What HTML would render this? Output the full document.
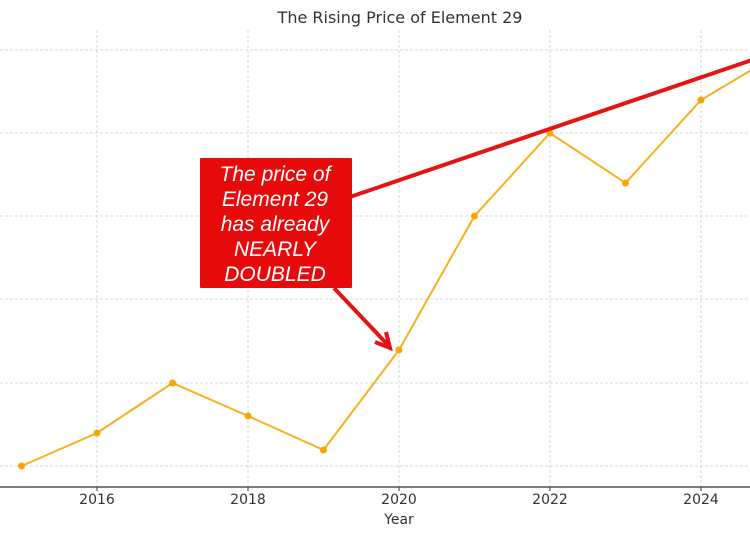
<!DOCTYPE html>
<html><head><meta charset="utf-8"><style>body{margin:0;background:#fff}svg{display:block}</style></head>
<body>
<svg width="750" height="536" xmlns="http://www.w3.org/2000/svg" font-family="DejaVu Sans, Liberation Sans, sans-serif">
<rect width="750" height="536" fill="#fff"/>
<text x="400" y="23" font-size="16" text-anchor="middle" fill="#333">The Rising Price of Element 29</text>
<g stroke="#ccc" stroke-width="0.8" stroke-dasharray="3,2">
<line x1="97" y1="30" x2="97" y2="487"/><line x1="248" y1="30" x2="248" y2="487"/><line x1="399" y1="30" x2="399" y2="487"/><line x1="550" y1="30" x2="550" y2="487"/><line x1="701" y1="30" x2="701" y2="487"/>
<line x1="0" y1="50" x2="750" y2="50"/><line x1="0" y1="133" x2="750" y2="133"/><line x1="0" y1="216" x2="750" y2="216"/><line x1="0" y1="299" x2="750" y2="299"/><line x1="0" y1="383" x2="750" y2="383"/><line x1="0" y1="466" x2="750" y2="466"/>
</g>
<line x1="0" y1="487" x2="750" y2="487" stroke="#333" stroke-width="1.2"/>
<g stroke="#333"><line x1="97" y1="487" x2="97" y2="491"/><line x1="248" y1="487" x2="248" y2="491"/><line x1="399" y1="487" x2="399" y2="491"/><line x1="550" y1="487" x2="550" y2="491"/><line x1="701" y1="487" x2="701" y2="491"/></g>
<g font-size="14" fill="#333" text-anchor="middle"><text x="97" y="504">2016</text><text x="248" y="504">2018</text><text x="399" y="504">2020</text><text x="550" y="504">2022</text><text x="701" y="504">2024</text><text x="399" y="524">Year</text></g>
<polyline fill="none" stroke="#f4b120" stroke-width="2" points="21.5,466 97,433 172.5,383 248,416 323.5,450 399,350 474.5,216 550,133 625.5,183 701,100 776.5,55"/>
<g fill="#f4a800"><circle cx="21.5" cy="466" r="3.5"/><circle cx="97" cy="433" r="3.5"/><circle cx="172.5" cy="383" r="3.5"/><circle cx="248" cy="416" r="3.5"/><circle cx="323.5" cy="450" r="3.5"/><circle cx="399" cy="350" r="3.5"/><circle cx="474.5" cy="216" r="3.5"/><circle cx="550" cy="133" r="3.5"/><circle cx="625.5" cy="183" r="3.5"/><circle cx="701" cy="100" r="3.5"/></g>
<line x1="300" y1="214" x2="752" y2="60" stroke="#e31414" stroke-width="4"/>
<line x1="334" y1="288" x2="388" y2="345" stroke="#e31414" stroke-width="4"/>
<polyline points="375,342 390,348 386,332" fill="none" stroke="#e31414" stroke-width="4"/>
<rect x="200" y="158" width="152" height="130" fill="#e60a0a" rx="1"/>
<g font-family="Liberation Sans, sans-serif" font-style="italic" font-size="21" fill="#fff" text-anchor="middle">
<text x="275" y="181">The price of</text><text x="275" y="206">Element 29</text><text x="275" y="231">has already</text><text x="275" y="256">NEARLY</text><text x="275" y="281">DOUBLED</text></g>
</svg>
</body></html>
